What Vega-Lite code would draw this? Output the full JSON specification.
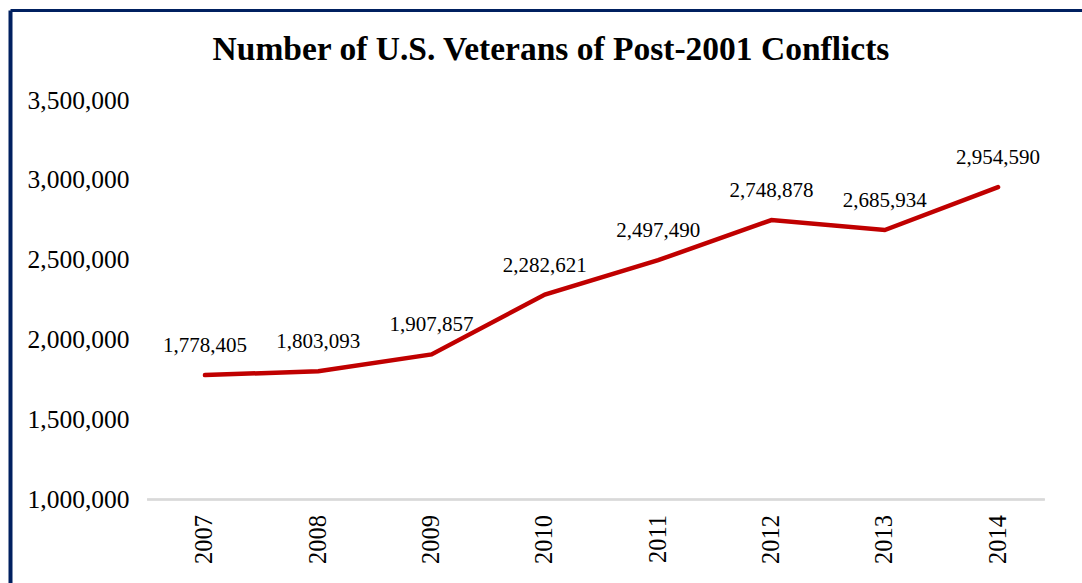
{
  "$schema": "https://vega.github.io/schema/vega-lite/v6.json",
  "autosize": "none",
  "padding": {"left": 10, "top": 10, "right": 0, "bottom": 0},
  "width": 1072,
  "height": 573,
  "background": "white",
  "config": {"view": {"stroke": null}},
  "title": {
    "text": "Number of U.S. Veterans of Post-2001 Conflicts",
    "font": "Liberation Serif",
    "fontSize": 33.5,
    "fontWeight": "bold",
    "color": "black",
    "anchor": "middle",
    "frame": "group",
    "baseline": "alphabetic",
    "offset": -83,
    "dx": 5
  },
  "data": {
    "values": [
      {"year": 2007, "veterans": 1778405},
      {"year": 2008, "veterans": 1803093},
      {"year": 2009, "veterans": 1907857},
      {"year": 2010, "veterans": 2282621},
      {"year": 2011, "veterans": 2497490},
      {"year": 2012, "veterans": 2748878},
      {"year": 2013, "veterans": 2685934},
      {"year": 2014, "veterans": 2954590}
    ]
  },
  "resolve": {"axis": {"x": "independent"}},
  "layer": [
    {
      "mark": {"type": "rule", "color": "#d9d9d9", "strokeWidth": 1.5},
      "encoding": {
        "x": {"datum": 2006.49, "type": "quantitative", "axis": null},
        "x2": {"datum": 2014.41},
        "y": {"datum": 1000000, "type": "quantitative"}
      }
    },
    {
      "mark": {"type": "line", "color": "#C00000", "strokeWidth": 4.5, "strokeCap": "round"},
      "encoding": {
        "x": {
          "field": "year",
          "type": "quantitative",
          "scale": {"domain": [2005.279, 2014.741], "nice": false, "zero": false},
          "axis": {
            "orient": "bottom",
            "offset": -83.5,
            "values": [2007, 2008, 2009, 2010, 2011, 2012, 2013, 2014],
            "format": "d",
            "labelAngle": -90,
            "labelAlign": "right",
            "labelBaseline": "middle",
            "labelPadding": 15,
            "labelFont": "Liberation Serif",
            "labelFontSize": 24.5,
            "labelColor": "black",
            "labelFlush": false,
            "labelOverlap": false,
            "domain": false,
            "ticks": false,
            "grid": false,
            "title": null
          }
        },
        "y": {
          "field": "veterans",
          "type": "quantitative",
          "scale": {"domain": [477472, 4063204], "nice": false, "zero": false},
          "axis": {
            "orient": "left",
            "values": [1000000, 1500000, 2000000, 2500000, 3000000, 3500000],
            "format": ",.0f",
            "labelPadding": -119,
            "labelAlign": "right",
            "labelBaseline": "middle",
            "labelFont": "Liberation Serif",
            "labelFontSize": 25.5,
            "labelColor": "black",
            "labelFlush": false,
            "labelOverlap": false,
            "domain": true,
            "domainColor": "#002060",
            "domainWidth": 4,
            "ticks": false,
            "grid": false,
            "title": null
          }
        }
      }
    },
    {
      "mark": {"type": "text", "font": "Liberation Serif", "fontSize": 21, "color": "black", "baseline": "alphabetic", "dy": -23},
      "encoding": {
        "x": {
          "field": "year",
          "type": "quantitative",
          "axis": {
            "orient": "top",
            "labels": false,
            "ticks": false,
            "grid": false,
            "domain": true,
            "domainColor": "#002060",
            "domainWidth": 3,
            "title": null
          }
        },
        "y": {"field": "veterans", "type": "quantitative"},
        "text": {"field": "veterans", "type": "quantitative", "format": ",.0f"}
      }
    }
  ]
}
